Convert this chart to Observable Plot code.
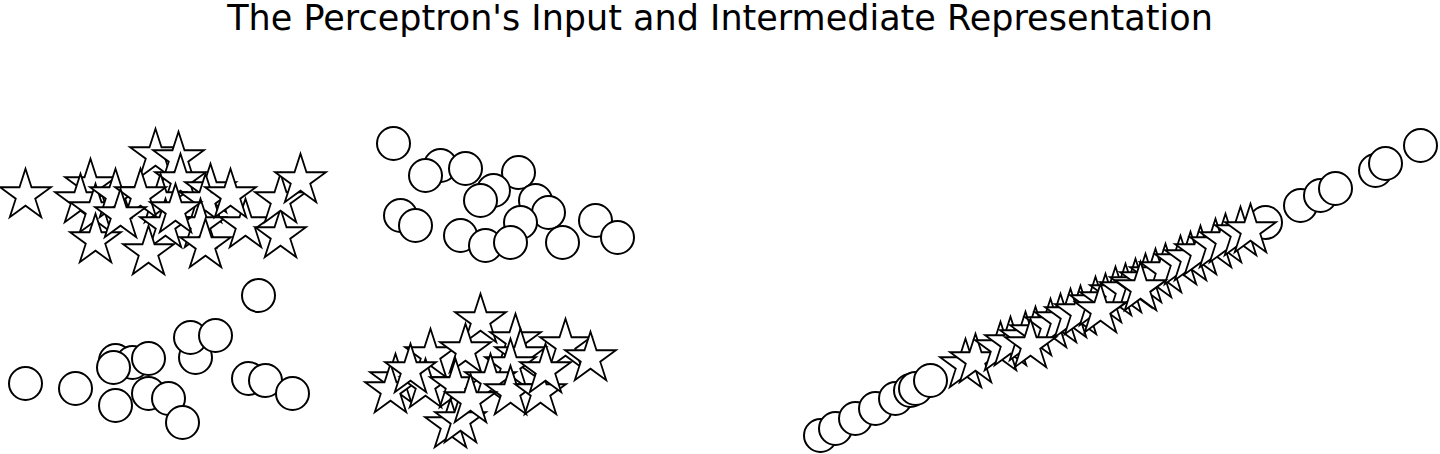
<!DOCTYPE html>
<html>
<head>
<meta charset="utf-8">
<script src="https://cdn.jsdelivr.net/npm/d3@7"></script>
<script src="https://cdn.jsdelivr.net/npm/@observablehq/plot@0.6"></script>
<style>
  body { margin: 0; background: #fff; font-family: "DejaVu Sans", sans-serif; }
  h1 { margin: 0; height: 60px; line-height: 36px; font-weight: normal; font-size: 35px; text-align: center; }
</style>
</head>
<body>
<h1>The Perceptron's Input and Intermediate Representation</h1>
<div id="plot"></div>
<script>
// Left panel: input space (x, y)
const inputStars = [
  [25,195],[90,185],[80,200],[95,210],[115,195],[155,155],[178,158],[180,180],[160,200],[140,195],
  [210,190],[205,200],[200,225],[165,225],[95,240],[148,252],[205,245],[245,225],[280,235],[280,200],
  [300,180],[230,195],[175,210],[120,215],
  [480,320],[430,355],[465,350],[515,340],[520,355],[510,365],[565,345],[590,358],[395,380],[390,390],
  [425,385],[455,385],[490,380],[510,392],[540,392],[450,425],[460,420],[470,400],[410,370],[545,370]
];
const inputCircles = [
  [393,143],[440,165],[465,168],[425,175],[518,172],[493,190],[480,200],[535,200],[548,212],[520,222],
  [400,215],[415,225],[460,235],[485,245],[510,242],[562,242],[595,220],[617,237],
  [25,383],[75,388],[115,360],[132,362],[148,358],[113,367],[195,357],[190,337],[215,335],[258,295],
  [248,378],[265,380],[292,393],[148,393],[168,398],[115,405],[182,422]
];
// Right panel: intermediate representation
const hiddenCircles = [
  [820,435],[835,428],[855,418],[875,408],[895,398],[910,390],[915,388],[930,380],
  [1265,222],[1300,205],[1320,195],[1335,188],[1375,170],[1385,163],[1420,145]
];
const hiddenStars = [
  [965,365],[975,360],[1000,348],[1010,343],[1025,338],[1035,333],[1050,325],[1060,320],[1070,315],
  [1080,312],[1095,303],[1105,300],[1115,293],[1125,290],[1135,285],[1145,280],[1155,275],[1165,270],
  [1180,262],[1190,258],[1200,252],[1215,245],[1225,240],[1240,233],[1250,230],[1030,345],[1100,310],[1140,288]
];

const circ = {x: d => d[0], y: d => d[1], r: 16.5, fill: "white", stroke: "black", strokeWidth: 2};
const star = {x: d => d[0], y: d => d[1], symbol: "star", r: 16, fill: "white", stroke: "black", strokeWidth: 1.8};

const plot = Plot.plot({
  width: 1440, height: 394,
  margin: 0,
  x: {domain: [0, 1440], axis: null},
  y: {domain: [454, 60], axis: null},
  marks: [
    Plot.dot(inputStars, star),
    Plot.dot(inputCircles, circ),
    Plot.dot(hiddenCircles, circ),
    Plot.dot(hiddenStars, star)
  ]
});
document.getElementById("plot").appendChild(plot);
</script>
</body>
</html>
